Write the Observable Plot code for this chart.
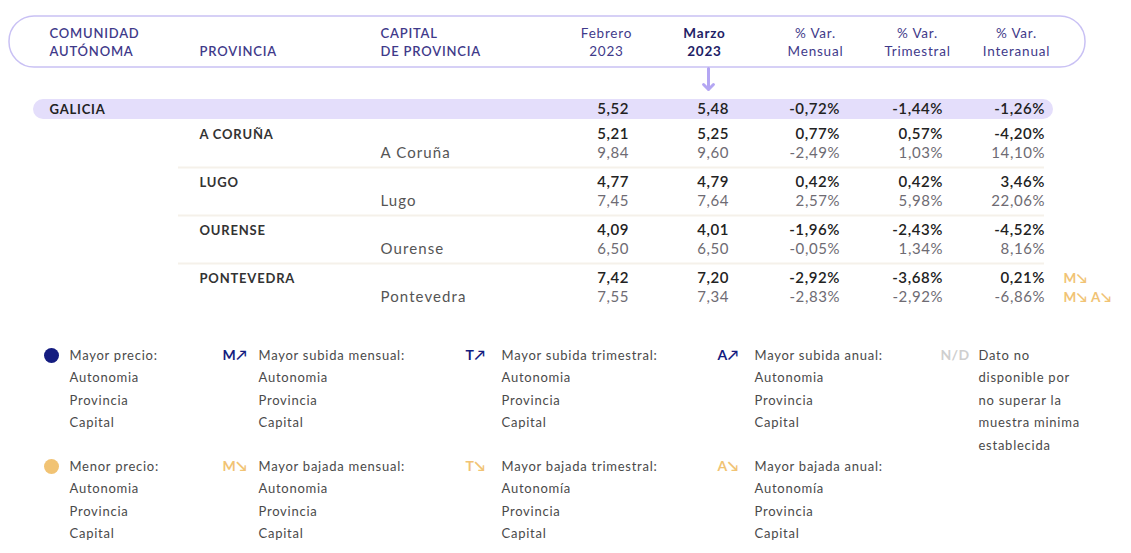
<!DOCTYPE html>
<html><head><meta charset="utf-8">
<script src="https://cdn.jsdelivr.net/npm/d3@7"></script>
<script src="https://cdn.jsdelivr.net/npm/@observablehq/plot@0.6"></script>
<style>
body{margin:0;background:#fff;}
svg{display:block;}
</style>
</head><body><div id="chart"></div>
<script>
// ---------- DATA ----------
const comunidad = "GALICIA";
const ccaaValues = [5.52, 5.48, -0.72, -1.44, -1.26];
const provincias = ["A CORUÑA", "LUGO", "OURENSE", "PONTEVEDRA"];
const capitales = ["A Coruña", "Lugo", "Ourense", "Pontevedra"];
const provFeb = [5.21, 4.77, 4.09, 7.42];
const provMar = [5.25, 4.79, 4.01, 7.20];
const provMens = [0.77, 0.42, -1.96, -2.92];
const provTrim = [0.57, 0.42, -2.43, -3.68];
const provInter = [-4.20, 3.46, -4.52, 0.21];
const capFeb = [9.84, 7.45, 6.50, 7.55];
const capMar = [9.60, 7.64, 6.50, 7.34];
const capMens = [-2.49, 2.57, -0.05, -2.83];
const capTrim = [1.03, 5.98, 1.34, -2.92];
const capInter = [14.10, 22.06, 8.16, -6.86];
const provFlags = ["", "", "", "M↘"];
const capFlags = ["", "", "", "M↘ A↘"];

const headerLabels = [
  {col: "ccaa", lines: ["COMUNIDAD", "AUTÓNOMA"]},
  {col: "prov", lines: ["", "PROVINCIA"]},
  {col: "cap", lines: ["CAPITAL", "DE PROVINCIA"]},
  {col: "feb", lines: ["Febrero", "2023"]},
  {col: "mar", lines: ["Marzo", "2023"]},
  {col: "mens", lines: ["% Var.", "Mensual"]},
  {col: "trim", lines: ["% Var.", "Trimestral"]},
  {col: "inter", lines: ["% Var.", "Interanual"]}
];

const legendGroups = [
  {icon: "●", kind: "up", title: "Mayor precio:", lines: ["Autonomia", "Provincia", "Capital"]},
  {icon: "M↗", kind: "up", title: "Mayor subida mensual:", lines: ["Autonomia", "Provincia", "Capital"]},
  {icon: "T↗", kind: "up", title: "Mayor subida trimestral:", lines: ["Autonomia", "Provincia", "Capital"]},
  {icon: "A↗", kind: "up", title: "Mayor subida anual:", lines: ["Autonomia", "Provincia", "Capital"]},
  {icon: "N/D", kind: "nd", title: "Dato no", lines: ["disponible por", "no superar la", "muestra minima", "establecida"]},
  {icon: "●", kind: "down", title: "Menor precio:", lines: ["Autonomia", "Provincia", "Capital"]},
  {icon: "M↘", kind: "down", title: "Mayor bajada mensual:", lines: ["Autonomia", "Provincia", "Capital"]},
  {icon: "T↘", kind: "down", title: "Mayor bajada trimestral:", lines: ["Autonomía", "Provincia", "Capital"]},
  {icon: "A↘", kind: "down", title: "Mayor bajada anual:", lines: ["Autonomía", "Provincia", "Capital"]}
];

// ---------- LAYOUT ----------
const W = 1131, H = 553;
const colX = {ccaa: 49, prov: 199, cap: 380, feb: 628, mar: 728, mens: 839, trim: 942, inter: 1044, flag: 1063};
const headCenter = {feb: 606, mar: 704, mens: 815, trim: 917, inter: 1016};
const numCols = ["feb", "mar", "mens", "trim", "inter"];
const headY = [33, 51];
const ccaaY = 109;
const provY = i => 134 + 48 * i;
const capY = i => provY(i) + 19;
const pill = {x1: 9, x2: 1085, y1: 16, y2: 67};
const band = {x1: 33, x2: 1053, y1: 99, y2: 119};
const legendColIcon = [50, 222, 465, 717, 940];
const legendColText = [69, 258, 501, 754, 978];
const legendRowY = [355, 466];
const legendPitch = 22.5;

const colors = {
  header: "#3f3a8a", headerBold: "#221d66", lavender: "#c9c1f4", bandFill: "#e4defb",
  arrow: "#b4a6f3", dark: "#222222", grey: "#6e6b73", sep: "#f5f1ea",
  up: "#141c80", down: "#f1c374", nd: "#cfcfcf", legendText: "#4a4a4a"
};

// ---------- FORMAT ----------
const loc = d3.formatLocale({decimal: ",", thousands: ".", grouping: [3], currency: ["", " €"], minus: "-"});
const f2 = loc.format(".2f");
const fmt = (v, j) => j < 2 ? f2(v) : f2(v) + "%";
const cells = (vals, y) => vals.map((v, j) => ({col: numCols[j], y, text: fmt(v, j)}));

const ccaaCells = cells(ccaaValues, ccaaY);
const provCells = provincias.flatMap((p, i) => cells([provFeb[i], provMar[i], provMens[i], provTrim[i], provInter[i]], provY(i)));
const capCells = capitales.flatMap((c, i) => cells([capFeb[i], capMar[i], capMens[i], capTrim[i], capInter[i]], capY(i)));
const provNames = provincias.map((p, i) => ({text: p, y: provY(i)}));
const capNames = capitales.map((c, i) => ({text: c, y: capY(i)}));
const flags = [
  ...provFlags.map((f, i) => ({text: f, y: provY(i)})),
  ...capFlags.map((f, i) => ({text: f, y: capY(i)}))
].filter(d => d.text);
const separators = provincias.slice(1).map((p, i) => ({y: provY(i) + 33}));

const headLines = headerLabels.flatMap(h => h.lines.map((t, k) => ({col: h.col, text: t, y: headY[k]}))).filter(d => d.text);
const headLeft = headLines.filter(d => ["ccaa", "prov", "cap"].includes(d.col));
const headNum = headLines.filter(d => numCols.includes(d.col) && d.col !== "mar");
const headMar = headLines.filter(d => d.col === "mar");

const legendIcons = legendGroups.map((g, i) => ({...g, x: legendColIcon[i < 5 ? i : i - 5], y: legendRowY[i < 5 ? 0 : 1]}));
const legendLines = legendIcons.flatMap(g => [g.title, ...g.lines].map((t, k) => ({text: t, x: legendColText[legendColIcon.indexOf(g.x)], y: g.y + k * legendPitch})));
const iconColor = k => k === "up" ? colors.up : k === "down" ? colors.down : colors.nd;

const font = "Lato, 'Open Sans', sans-serif";

// letter-spacing per text mark (in mark order)
const spacing = [];
const T = (data, opts, ls) => { spacing.push(ls); return Plot.text(data, opts); };

const chart = Plot.plot({
  width: W, height: H,
  margin: 0,
  x: {type: "identity", axis: null},
  y: {type: "identity", axis: null},
  style: {fontFamily: font, background: "#fff"},
  marks: [
    Plot.rect([pill], {x1: "x1", x2: "x2", y1: "y1", y2: "y2", rx: 25, fill: "#fff", stroke: colors.lavender, strokeWidth: 1.5}),
    T(headLeft, {x: d => colX[d.col], y: "y", text: "text", textAnchor: "start", fontSize: 13, fill: colors.header, fontWeight: 600}, 0.8),
    T(headNum, {x: d => headCenter[d.col], y: "y", text: "text", textAnchor: "middle", fontSize: 13.5, fill: colors.header}, 0.8),
    T(headMar, {x: d => headCenter[d.col], y: "y", text: "text", textAnchor: "middle", fontSize: 13.5, fill: colors.headerBold, fontWeight: "bold"}, 0.8),
    Plot.arrow([{x: 708, y1: 68, y2: 89}], {x1: "x", x2: "x", y1: "y1", y2: "y2", stroke: colors.arrow, strokeWidth: 3, headLength: 12, headAngle: 90}),
    Plot.rect([band], {x1: "x1", x2: "x2", y1: "y1", y2: "y2", rx: 10, fill: colors.bandFill}),
    T([{text: comunidad}], {x: colX.ccaa, y: ccaaY, text: "text", textAnchor: "start", fontSize: 13, fontWeight: "bold", fill: colors.dark}, 0.8),
    T(ccaaCells, {x: d => colX[d.col], y: "y", text: "text", textAnchor: "end", fontSize: 15, fontWeight: 600, fill: colors.dark}, 0.6),
    Plot.ruleY(separators, {y: "y", x1: colX.prov - 21, x2: colX.inter, stroke: colors.sep, strokeWidth: 2}),
    T(provNames, {x: colX.prov, y: "y", text: "text", textAnchor: "start", fontSize: 13, fontWeight: "bold", fill: "#333"}, 0.8),
    T(provCells, {x: d => colX[d.col], y: "y", text: "text", textAnchor: "end", fontSize: 15, fontWeight: 600, fill: colors.dark}, 0.6),
    T(capNames, {x: colX.cap, y: "y", text: "text", textAnchor: "start", fontSize: 15, fill: "#555"}, 1.1),
    T(capCells, {x: d => colX[d.col], y: "y", text: "text", textAnchor: "end", fontSize: 15, fill: colors.grey}, 0.6),
    T(flags, {x: colX.flag, y: "y", text: "text", textAnchor: "start", fontSize: 13.5, fontWeight: "bold", fill: colors.down}, 0.6),
    Plot.dot(legendIcons.filter(d => d.icon === "●"), {x: d => d.x + 1, y: "y", r: 7.5, fill: d => iconColor(d.kind)}),
    T(legendIcons.filter(d => d.icon !== "●"), {x: "x", y: "y", text: "icon", textAnchor: "start", fontSize: 14, fontWeight: "bold", fill: d => iconColor(d.kind)}, 0.3),
    T(legendLines, {x: "x", y: "y", text: "text", textAnchor: "start", fontSize: 13, fill: colors.legendText}, 0.75)
  ]
});

d3.select(chart).selectAll('g[aria-label="text"]').each(function(d, i) {
  const ls = spacing[i];
  d3.select(this).attr("letter-spacing", ls);
  if (this.getAttribute("text-anchor") === "end") d3.select(this).selectAll("text").attr("dx", ls);
});
document.getElementById("chart").append(chart);
</script>
</body></html>
